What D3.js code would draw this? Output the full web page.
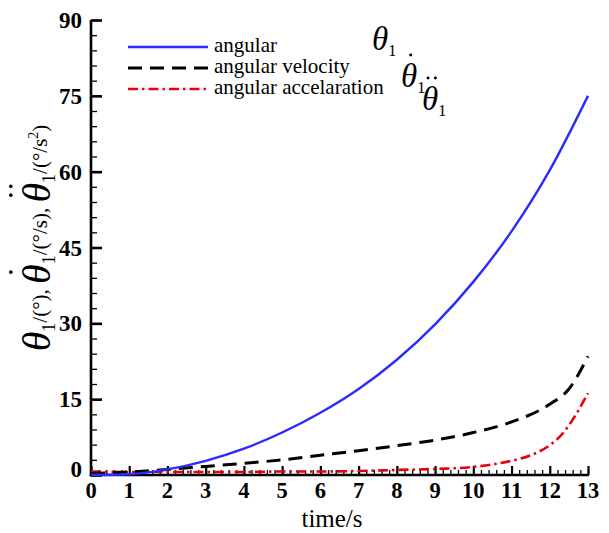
<!DOCTYPE html>
<html>
<head>
<meta charset="utf-8">
<script src="https://cdn.jsdelivr.net/npm/d3@7"></script>
<style>
  body { margin: 0; background: #fff; }
  text { font-family: 'Liberation Serif', 'Times New Roman', serif; }
</style>
</head>
<body>
<script>
let margin = { top: 20, bottom: 58, left: 91, right: 21 }
let width = 609 - margin.left - margin.right
let height = 533 - margin.top - margin.bottom

let timeAngle = [0, 1, 2, 3, 4, 5, 6, 7, 8, 9, 10, 11, 12, 13]
let angular = [0, 0.15, 1.1, 2.8, 5.2, 8.4, 12.3, 17.0, 22.8, 29.8, 38.2, 48.2, 60.3, 75]

let timeVel = [0, 1, 2, 3, 4, 5, 6, 7, 8, 9, 10, 11, 12, 12.5, 13]
let velocity = [0.3, 0.6, 1.1, 1.7, 2.3, 3.0, 3.9, 4.8, 5.8, 6.9, 8.4, 10.5, 14.0, 17.0, 23.5]

let timeAcc = [0, 1, 2, 3, 4, 5, 6, 7, 8, 9, 10, 10.5, 11, 11.5, 12, 12.25, 12.5, 12.75, 13]
let acceleration = [0.7, 0.6, 0.6, 0.6, 0.6, 0.7, 0.7, 0.8, 1.0, 1.2, 1.6, 2.1, 2.8, 3.9, 5.9, 7.5, 9.8, 12.8, 16.2]

let xTicks = d3.range(0, 14, 1)
let yTicks = [0, 15, 30, 45, 60, 75, 90]

let legendNames = ['angular', 'angular velocity', 'angular accelaration']

let svg = d3.select('body')
    .append('svg')
        .attr('width', width + margin.left + margin.right)
        .attr('height', height + margin.top + margin.bottom)

let g = svg.append('g')
    .attr('transform', 'translate(' + margin.left + ',' + margin.top + ')')

let x = d3.scaleLinear().domain([0, 13]).range([0, width])
let y = d3.scaleLinear().domain([0, 90]).range([height, 0])

// minor ticks
g.append('g')
    .attr('transform', 'translate(0,' + height + ')')
    .call(d3.axisTop(x).tickValues(d3.range(0, 13.01, 0.2)).tickSize(5).tickFormat(''))
    .call(a => a.select('.domain').remove())
    .call(a => a.selectAll('line').attr('stroke-width', 1.3))
g.append('g')
    .call(d3.axisRight(y).tickValues(d3.range(0, 90.01, 3)).tickSize(6).tickFormat(''))
    .call(a => a.select('.domain').remove())
    .call(a => a.selectAll('line').attr('stroke-width', 1.3))

// major ticks
let xAxis = g.append('g')
    .attr('transform', 'translate(0,' + height + ')')
    .call(d3.axisTop(x).tickValues(xTicks).tickSize(9).tickFormat(''))
xAxis.selectAll('line').attr('stroke-width', 2.2)
xAxis.select('.domain').remove()

let yAxis = g.append('g')
    .call(d3.axisRight(y).tickValues(yTicks).tickSize(11).tickFormat(''))
yAxis.selectAll('line').attr('stroke-width', 2.6)
yAxis.select('.domain').remove()

g.selectAll('.xlab')
    .data(xTicks)
    .enter()
    .append('text')
        .attr('x', d => x(d))
        .attr('y', height + 23)
        .attr('text-anchor', 'middle')
        .attr('font-size', 22.5)
        .attr('font-weight', 'bold')
        .text(d => d)

g.selectAll('.ylab')
    .data(yTicks)
    .enter()
    .append('text')
        .attr('x', -9)
        .attr('y', d => y(d) + 8 - (d === 0 ? 6 : 0))
        .attr('text-anchor', 'end')
        .attr('font-size', 23)
        .attr('font-weight', 'bold')
        .text(d => d)

// axis lines
g.append('line')
    .attr('x1', 0).attr('x2', 0).attr('y1', 0).attr('y2', height + 1.2)
    .attr('stroke', 'black').attr('stroke-width', 2.6)
g.append('line')
    .attr('x1', -1.3).attr('x2', width + 1).attr('y1', height).attr('y2', height)
    .attr('stroke', 'black').attr('stroke-width', 2.4)

let line = d3.line()
    .x(d => x(d[0]))
    .y(d => y(d[1]))
    .curve(d3.curveMonotoneX)

let series = [
    { t: timeAngle, v: angular, color: '#2b2bff', w: 2.4, dash: null },
    { t: timeVel, v: velocity, color: '#000', w: 3, dash: '14,8' },
    { t: timeAcc, v: acceleration, color: '#e8000b', w: 2.6, dash: '10,4,2.5,4' }
]

// draw from back to front like the reference
series.slice().reverse().forEach(s => {
    g.append('path')
        .datum(d3.zip(s.t, s.v))
        .attr('d', line)
        .attr('fill', 'none')
        .attr('stroke', s.color)
        .attr('stroke-width', s.w)
        .attr('stroke-dasharray', s.dash)
})

// puts 1 or 2 dots over the char at index i of a text element
function dotsOver(parent, textNode, i, n, size, lift) {
    let box = textNode.getExtentOfChar(i)
    let base = textNode.getStartPositionOfChar(i).y
    let cx = box.x + box.width * 0.6
    let cy = base - size * lift
    let offs = n === 1 ? [0] : [-size * 0.11, size * 0.11]
    offs.forEach(o => {
        parent.append('circle')
            .attr('cx', cx + o)
            .attr('cy', cy)
            .attr('r', size * 0.045)
            .attr('fill', 'black')
    })
}

// legend
let legend = svg.append('g')
series.forEach((s, i) => {
    let ly = 47 + i * 21
    legend.append('line')
        .attr('x1', 128).attr('x2', 208)
        .attr('y1', ly).attr('y2', ly)
        .attr('stroke', s.color)
        .attr('stroke-width', s.w)
        .attr('stroke-dasharray', s.dash)
    legend.append('text')
        .attr('x', 214)
        .attr('y', ly + 5)
        .attr('font-size', 21)
        .text(legendNames[i])
})

let symX = [372, 401, 422]
let symY = [50, 87, 110]
symX.forEach((sx, i) => {
    let t = legend.append('text')
        .attr('x', sx)
        .attr('y', symY[i])
    t.append('tspan')
        .attr('font-size', 33)
        .attr('font-style', 'italic')
        .text('\u03b8')
    t.append('tspan')
        .attr('font-size', 16)
        .attr('dy', 6)
        .text('1')
    if (i > 0) dotsOver(legend, t.node(), 0, i, 33, 0.97)
})

// y label
let ylg = svg.append('g')
    .attr('transform', 'translate(50,238) rotate(-90)')
let yl = ylg.append('text')
    .attr('text-anchor', 'middle')
let parts = [
    ['/(\u00b0), '],
    ['/(\u00b0/s), '],
    ['/(\u00b0/s']
]
parts.forEach((p, i) => {
    yl.append('tspan')
        .attr('font-size', 40)
        .attr('font-style', 'italic')
        .attr('dy', i === 0 ? 0 : 3)
        .text('\u03b8')
    yl.append('tspan')
        .attr('font-size', 18)
        .attr('dy', 5)
        .text('1')
    yl.append('tspan')
        .attr('font-size', 21)
        .attr('dy', -8)
        .text(p[0])
})
yl.append('tspan').attr('font-size', 14).attr('dy', -9).text('2')
yl.append('tspan').attr('font-size', 21).attr('dy', 9).text(')')

// find the theta chars to put dots on
let ylText = yl.node().textContent
let thetaIdx = []
for (let k = 0; k < ylText.length; k++) if (ylText[k] === '\u03b8') thetaIdx.push(k)
dotsOver(ylg, yl.node(), thetaIdx[1], 1, 40, 0.98)
dotsOver(ylg, yl.node(), thetaIdx[2], 2, 40, 0.98)

svg.append('text')
    .attr('x', 332)
    .attr('y', 527)
    .attr('text-anchor', 'middle')
    .attr('font-size', 25)
    .text('time/s')
</script>
</body>
</html>
